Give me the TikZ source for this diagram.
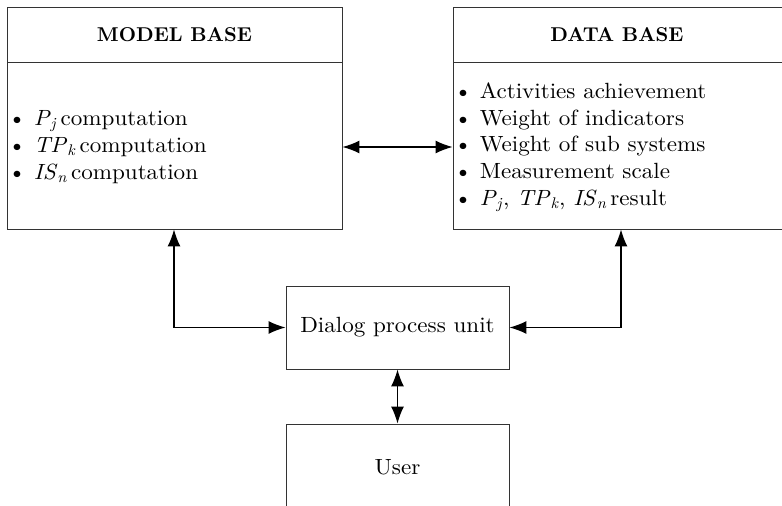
\documentclass[tikz,border=0pt]{standalone}
\usepackage{fontspec}
\setmainfont{lmroman10-regular.otf}[
  ItalicFont=lmroman10-italic.otf,
  BoldFont=lmroman10-bold.otf,
  FakeStretch=1.05]
\newfontfamily\headfont{lmroman10-bold.otf}
\usetikzlibrary{arrows.meta}

% italic symbol with italic subscript, set in the text font
\newcommand{\symsub}[2]{\textit{#1}\textsubscript{\textit{#2}}}

\tikzset{
  frame/.style={draw=black!80, line width=0.9bp, fill=none, inner sep=0pt},
  rule/.style={draw=black!80, line width=0.9bp},
  link/.style={draw=black, line width=1.3bp,
    {Latex[length=17bp,width=13bp]}-{Latex[length=17bp,width=13bp]}},
  label/.style={inner sep=0pt, font=\fontsize{22bp}{26.7bp}\selectfont},
  heading/.style={inner sep=0pt, font=\fontsize{20bp}{26.7bp}\headfont},
  list/.style={label, align=left, anchor=west},
}

\begin{document}
\begin{tikzpicture}[x=1bp, y=-1bp]
  \useasboundingbox (0,0) rectangle (782,506);
  \clip (0,0) rectangle (782,506);

  % model base
  \node[frame, minimum width=335bp, minimum height=222bp] (mb) at (174.5,118) {};
  \coordinate (mbdl) at (7,62);
  \coordinate (mbdr) at (342,62);
  \draw[rule] (mbdl) -- (mbdr);
  \node[heading] (mbt) at (174.5,35) {MODEL BASE};
  \node[list] (mbl) at (8,147) {%
    \textbullet\ \symsub{P}{j}\,computation\\
    \textbullet\ \symsub{TP}{k}\,computation\\
    \textbullet\ \symsub{IS}{n}\,computation};

  % data base (runs past the right edge)
  \node[frame, minimum width=360bp, minimum height=222bp] (db) at (633,118) {};
  \coordinate (dbdl) at (453,62);
  \coordinate (dbdr) at (813,62);
  \draw[rule] (dbdl) -- (dbdr);
  \node[heading] (dbt) at (617,35) {DATA BASE};
  \node[list] (dbl) at (454,147) {%
    \textbullet\ Activities achievement\\
    \textbullet\ Weight of indicators\\
    \textbullet\ Weight of sub systems\\
    \textbullet\ Measurement scale\\
    \textbullet\ \symsub{P}{j}, \symsub{TP}{k}, \symsub{IS}{n}\,result};

  % dialog process unit
  \node[frame, minimum width=223bp, minimum height=83bp] (dp) at (397.5,327.5) {};
  \node[label] (dpt) at (dp.center) {Dialog process unit};

  % user (runs past the bottom edge)
  \node[frame, minimum width=223bp, minimum height=120bp] (us) at (397.5,484) {};
  \node[label] (ust) at (397.5,467) {User};

  % connectors
  \draw[link] (mb.east |- 0,147) -- (db.west |- 0,147);
  \coordinate (lc) at (174,327.5);
  \coordinate (rc) at (621,327.5);
  \draw[link] (lc |- mb.south) -- (lc) -- (dp.west);
  \draw[link] (rc |- db.south) -- (rc) -- (dp.east);
  \draw[link] (dp.south) -- (us.north);
\end{tikzpicture}
\end{document}
